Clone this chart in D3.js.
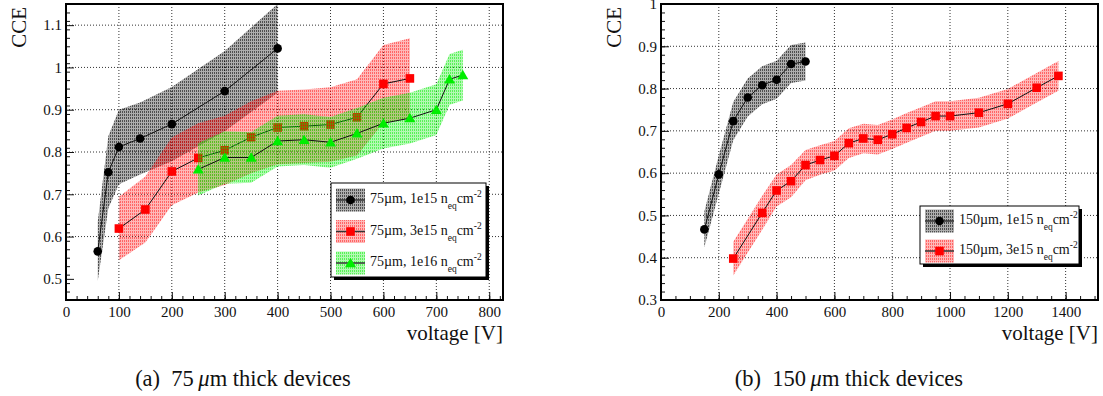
<!DOCTYPE html>
<html>
<head>
<meta charset="UTF-8">
<script src="https://d3js.org/d3.v7.min.js"></script>
<style>
  body { margin: 0; background: #fff; }
  svg { font-family: "Liberation Serif", "DejaVu Serif", serif; }
</style>
</head>
<body>
<svg id="chart" width="1103" height="396"></svg>
<script>
// ---- panel (a): 75um devices ----
const volt75a = [60, 80, 100, 140, 200, 300, 400];
const cce75a  = [0.565, 0.752, 0.812, 0.832, 0.866, 0.944, 1.045];
const err75a  = [0.07, 0.085, 0.088, 0.085, 0.088, 0.095, 0.105];

const volt75b = [100, 150, 200, 250, 300, 350, 400, 450, 500, 550, 600, 650];
const cce75b  = [0.619, 0.664, 0.754, 0.786, 0.804, 0.835, 0.858, 0.861, 0.865, 0.882, 0.961, 0.974];
const err75b  = [0.075, 0.078, 0.08, 0.082, 0.082, 0.085, 0.087, 0.087, 0.088, 0.09, 0.092, 0.095];

const volt75c = [250, 300, 350, 400, 450, 500, 550, 600, 650, 700, 725, 750];
const cce75c  = [0.759, 0.787, 0.787, 0.826, 0.829, 0.823, 0.844, 0.868, 0.880, 0.900, 0.972, 0.982];
const err75c  = [0.062, 0.062, 0.06, 0.06, 0.06, 0.06, 0.06, 0.06, 0.06, 0.06, 0.06, 0.06];

// ---- panel (b): 150um devices ----
const volt150a = [150, 200, 250, 300, 350, 400, 450, 500];
const cce150a  = [0.467, 0.597, 0.723, 0.779, 0.808, 0.821, 0.858, 0.864];
const err150a  = [0.042, 0.045, 0.045, 0.045, 0.045, 0.045, 0.045, 0.045];

const volt150b = [250, 350, 400, 450, 500, 550, 600, 650, 700, 750, 800, 850, 900, 950, 1000, 1100, 1200, 1300, 1375];
const cce150b  = [0.398, 0.506, 0.559, 0.581, 0.619, 0.631, 0.641, 0.671, 0.682, 0.679, 0.692, 0.707, 0.721, 0.735, 0.735, 0.743, 0.764, 0.802, 0.830];
const err150b  = [0.04, 0.04, 0.038, 0.038, 0.036, 0.035, 0.035, 0.035, 0.035, 0.035, 0.035, 0.035, 0.035, 0.035, 0.035, 0.035, 0.035, 0.035, 0.035];

// tick labels
const xTicksA = [0, 100, 200, 300, 400, 500, 600, 700, 800];
const yTicksA = [0.5, 0.6, 0.7, 0.8, 0.9, 1.0, 1.1];
const xTicksB = [0, 200, 400, 600, 800, 1000, 1200, 1400];
const yTicksB = [0.3, 0.4, 0.5, 0.6, 0.7, 0.8, 0.9, 1.0];

const svg = d3.select("#chart");
const defs = svg.append("defs");

// hatched-looking fills like ROOT's 3xxx styles
function makePattern(id, rgb, a1, a2) {
  const p = defs.append("pattern").attr("id", id)
    .attr("patternUnits", "userSpaceOnUse").attr("width", 2).attr("height", 3);
  p.append("rect").attr("width", 2).attr("height", 3).attr("fill", `rgba(${rgb},${a1})`);
  p.append("rect").attr("width", 1).attr("height", 2).attr("fill", `rgba(${rgb},${a2})`);
}
makePattern("patBlack", "0,0,0", 0.32, 0.55);
makePattern("patRed", "255,0,0", 0.28, 0.45);
makePattern("patGreen", "0,235,0", 0.3, 0.5);

const styles = {
  black: { pat: "url(#patBlack)", marker: "circle", color: "#000" },
  red:   { pat: "url(#patRed)",   marker: "square", color: "#ff0000" },
  green: { pat: "url(#patGreen)", marker: "triangle", color: "#00ee00" }
};

function drawMarker(g, type, color, x, y) {
  if (type === "circle") {
    g.append("circle").attr("cx", x).attr("cy", y).attr("r", 4.3).attr("fill", color);
  } else if (type === "square") {
    g.append("rect").attr("x", x - 4.3).attr("y", y - 4.3).attr("width", 8.6).attr("height", 8.6).attr("fill", color);
  } else {
    g.append("path").attr("d", d3.symbol(d3.symbolTriangle, 52)())
      .attr("transform", `translate(${x},${y + 1})`).attr("fill", color);
  }
}

function drawPanel(o) {
  const x = d3.scaleLinear().domain(o.xDomain).range([o.left, o.right]);
  const y = d3.scaleLinear().domain(o.yDomain).range([o.bottom, o.top]);
  const g = svg.append("g");
  const fmt = d => String(+d.toFixed(1));

  // grid
  g.append("g").selectAll("line").data(o.xTicks.slice(1)).join("line")
    .attr("x1", d => x(d)).attr("x2", d => x(d)).attr("y1", o.top).attr("y2", o.bottom)
    .attr("stroke", "#333").attr("stroke-dasharray", "1,2");
  g.append("g").selectAll("line").data(o.yTicks.slice(1)).join("line")
    .attr("x1", o.left).attr("x2", o.right).attr("y1", d => y(d)).attr("y2", d => y(d))
    .attr("stroke", "#333").attr("stroke-dasharray", "1,2");

  const clipId = "clip" + o.id;
  defs.append("clipPath").attr("id", clipId).append("rect")
    .attr("x", o.left).attr("y", o.top).attr("width", o.right - o.left).attr("height", o.bottom - o.top);

  const plot = g.append("g").attr("clip-path", `url(#${clipId})`);
  o.series.forEach(s => {
    const st = styles[s.style];
    const pts = s.v.map((v, i) => ({ v, c: s.c[i], e: s.e[i] }));
    plot.append("path").datum(pts)
      .attr("d", d3.area().x(d => x(d.v)).y0(d => y(d.c - d.e)).y1(d => y(d.c + d.e)))
      .attr("fill", st.pat);
    plot.append("path").datum(pts)
      .attr("d", d3.line().x(d => x(d.v)).y(d => y(d.c)))
      .attr("fill", "none").attr("stroke", "#111").attr("stroke-width", 1);
    pts.forEach(d => drawMarker(plot, st.marker, st.color, x(d.v), y(d.c)));
  });

  // axes with inward ticks
  const xAxis = g.append("g").attr("transform", `translate(0,${o.bottom})`)
    .call(d3.axisBottom(x).tickValues(o.xTicks).tickSizeInner(-8).tickSizeOuter(0).tickPadding(6).tickFormat(d3.format("d")));
  const xMinor = d3.range(o.xDomain[0], o.xDomain[1] + 0.001, o.xMinorStep);
  g.append("g").attr("transform", `translate(0,${o.bottom})`)
    .call(d3.axisBottom(x).tickValues(xMinor).tickSizeInner(-4).tickSizeOuter(0).tickFormat(""));
  const yAxis = g.append("g").attr("transform", `translate(${o.left},0)`)
    .call(d3.axisLeft(y).tickValues(o.yTicks).tickSizeInner(-8).tickSizeOuter(0).tickPadding(4).tickFormat(fmt));
  const yMinor = d3.range(0, 300).map(i => +(o.yDomain[0] + i * 0.02).toFixed(2)).filter(v => v <= o.yDomain[1]);
  g.append("g").attr("transform", `translate(${o.left},0)`)
    .call(d3.axisLeft(y).tickValues(yMinor).tickSizeInner(-4).tickSizeOuter(0).tickFormat(""));
  g.selectAll(".domain").remove();
  g.selectAll(".tick line").attr("stroke", "#111");
  [xAxis, yAxis].forEach(a => a.selectAll("text").attr("font-size", 15).attr("fill", "#111")
    .attr("font-family", "Liberation Serif"));

  // frame
  g.append("rect").attr("x", o.left).attr("y", o.top).attr("width", o.right - o.left).attr("height", o.bottom - o.top)
    .attr("fill", "none").attr("stroke", "#000").attr("stroke-width", 2);

  // axis titles
  g.append("text").attr("transform", `translate(${o.left - 40},${o.top + 3}) rotate(-90)`)
    .attr("text-anchor", "end").attr("font-size", 21).attr("fill", "#111").text("CCE");
  g.append("text").attr("x", o.right).attr("y", 340).attr("text-anchor", "end")
    .attr("font-size", 21).attr("fill", "#111").text("voltage [V]");

  // legend
  const L = o.legend;
  g.append("rect").attr("x", L.x + 3).attr("y", L.y + 3).attr("width", L.w).attr("height", L.h).attr("fill", "#000");
  g.append("rect").attr("x", L.x).attr("y", L.y).attr("width", L.w).attr("height", L.h)
    .attr("fill", "#fff").attr("stroke", "#000").attr("stroke-width", 1);
  o.series.forEach((s, i) => {
    const st = styles[s.style];
    const cy = L.y + L.row0 + i * L.rowH;
    g.append("rect").attr("x", L.x + 5).attr("y", cy - 11.5).attr("width", 29).attr("height", 23).attr("fill", st.pat);
    g.append("line").attr("x1", L.x + 5).attr("x2", L.x + 34).attr("y1", cy).attr("y2", cy)
      .attr("stroke", "#333").attr("stroke-width", 1.5);
    drawMarker(g, st.marker, st.color, L.x + 19.5, cy);
    const t = g.append("text").attr("x", L.x + 39).attr("y", cy + 3).attr("font-size", 14).attr("fill", "#111");
    t.append("tspan").text(s.label + " n");
    t.append("tspan").attr("dy", 6).attr("font-size", 9.5).text("eq");
    t.append("tspan").attr("dy", -6).text("cm");
    t.append("tspan").attr("dy", -6).attr("font-size", 9.5).text("-2");
  });

  // caption
  const cap = g.append("text").attr("x", o.capX).attr("y", 386).attr("text-anchor", "middle")
    .attr("font-size", 22.5).attr("fill", "#111");
  cap.append("tspan").text(o.capTag + "\u2002" + o.capNum + "\u2009");
  cap.append("tspan").attr("font-style", "italic").text("\u03bc");
  cap.append("tspan").text("m thick devices");
}

drawPanel({
  id: "A", left: 66, right: 503, top: 4, bottom: 300,
  xDomain: [0, 826], yDomain: [0.45, 1.15],
  xTicks: xTicksA, yTicks: yTicksA, xMinorStep: 20,
  series: [
    { v: volt75a, c: cce75a, e: err75a, style: "black", label: "75\u00b5m, 1e15" },
    { v: volt75b, c: cce75b, e: err75b, style: "red",   label: "75\u00b5m, 3e15" },
    { v: volt75c, c: cce75c, e: err75c, style: "green", label: "75\u00b5m, 1e16" }
  ],
  legend: { x: 331, y: 183, w: 155, h: 94, row0: 17, rowH: 31.5 },
  capX: 243, capTag: "(a)", capNum: "75"
});

drawPanel({
  id: "B", left: 661, right: 1098, top: 4, bottom: 300,
  xDomain: [0, 1512], yDomain: [0.3, 1.0],
  xTicks: xTicksB, yTicks: yTicksB, xMinorStep: 50,
  series: [
    { v: volt150a, c: cce150a, e: err150a, style: "black", label: "150\u00b5m, 1e15" },
    { v: volt150b, c: cce150b, e: err150b, style: "red",   label: "150\u00b5m, 3e15" }
  ],
  legend: { x: 920, y: 206, w: 159, h: 58, row0: 15, rowH: 30 },
  capX: 849, capTag: "(b)", capNum: "150"
});
</script>
</body>
</html>
